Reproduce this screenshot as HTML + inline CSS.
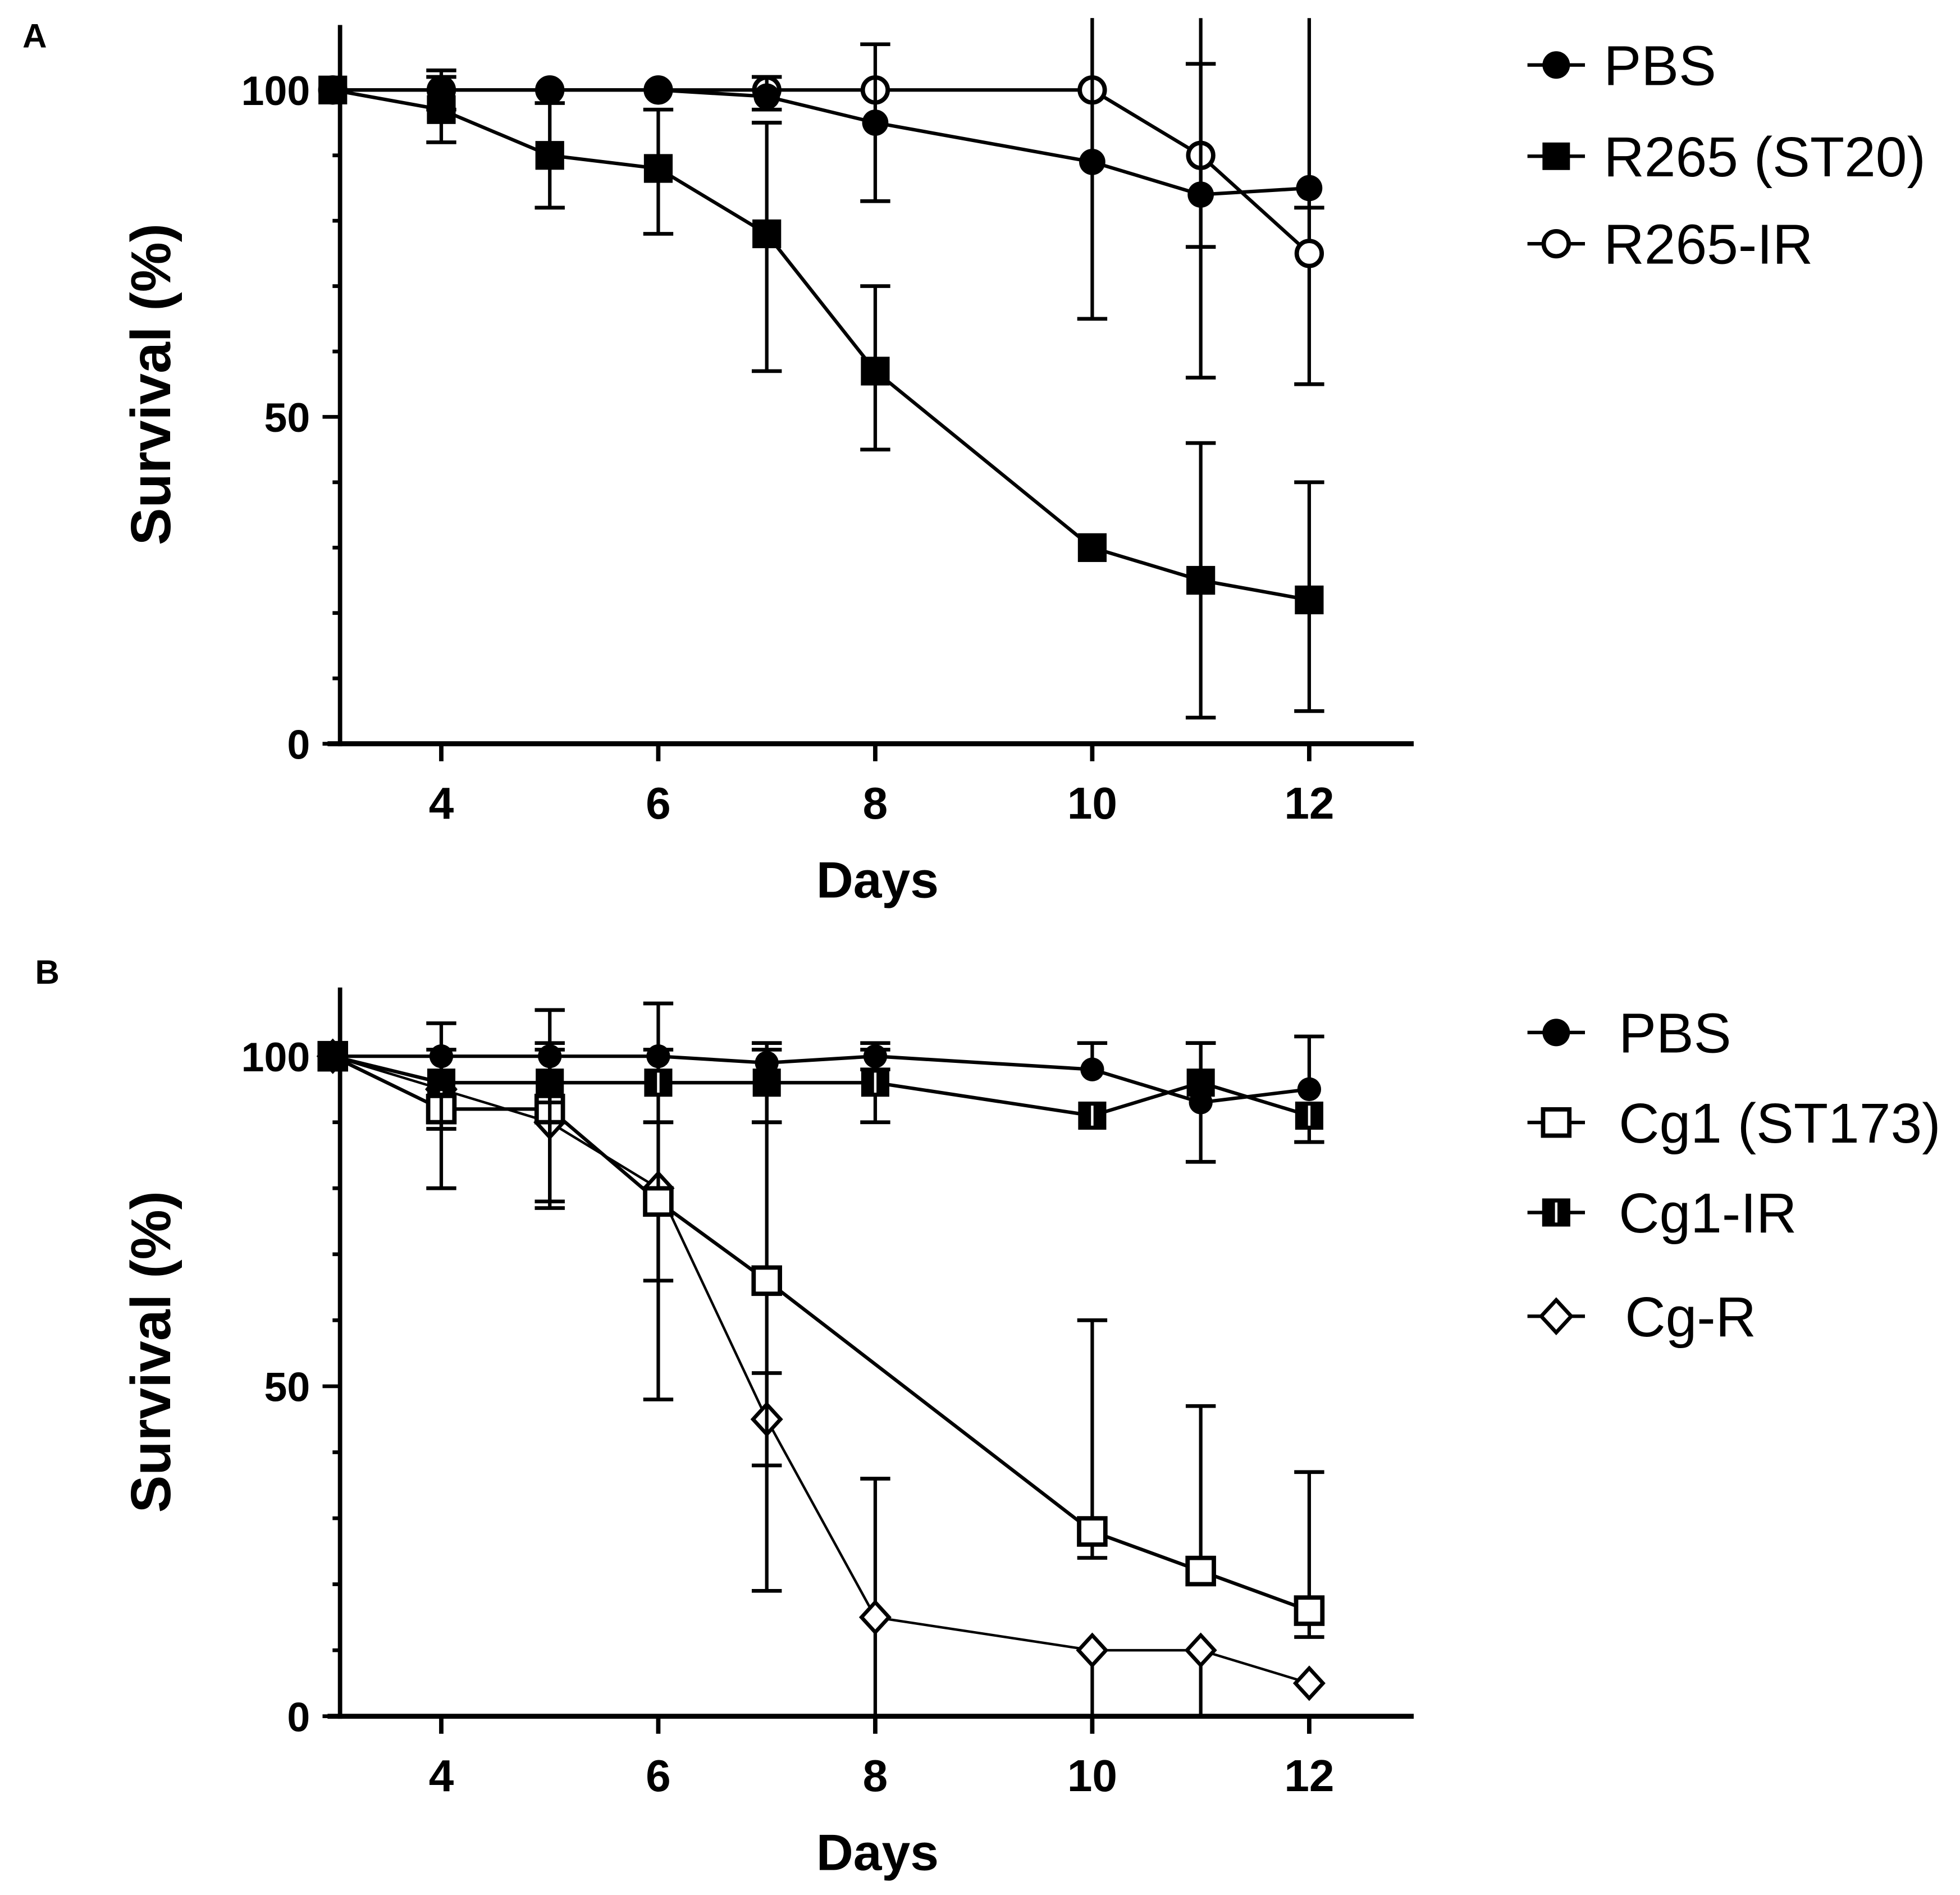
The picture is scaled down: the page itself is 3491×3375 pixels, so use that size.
<!DOCTYPE html>
<html><head><meta charset="utf-8"><style>
html,body{margin:0;padding:0;background:#fff}
svg{display:block;font-family:"Liberation Sans",Arial,sans-serif}
</style></head><body>
<svg id="chart" width="3491" height="3375" viewBox="0 0 1568 1516" xmlns="http://www.w3.org/2000/svg">
<rect width="1568" height="1516" fill="#fff"/>
<g id="gA"></g>
<g id="gB"></g>
</svg>
<script>
const days = [3,4,5,6,7,8,10,11,12];
const xTicks = [4,6,8,10,12];
const yTickLabels = [0,50,100];
// Panel A
const aPBS = [100,100,100,100,99,95,89,84,85];
const aPBSlo = [100,97,100,100,97,83,65,76,82];
const aPBShi = [100,103,100,100,102,107,112,104,85];
const aR265 = [100,97,90,88,78,57,30,25,22];
const aR265lo = [100,92,82,78,57,45,30,4,5];
const aR265hi = [100,102,98,97,95,70,30,46,40];
const aIR = [100,100,100,100,100,100,100,90,75];
const aIRlo = [100,100,100,100,100,100,100,56,55];
const aIRhi = [100,100,100,100,100,100,112,112,112];
// Panel B
const bPBS = [100,100,100,100,99,100,98,93,95];
const bPBSlo = [100,95,93,100,90,98,98,93,95];
const bPBShi = [100,105,107,108,102,102,102,102,103];
const bCg1 = [100,92,92,78,66,null,28,22,16];
const bCg1lo = [100,80,77,48,38,null,24,22,12];
const bCg1hi = [100,92,102,90,102,null,60,47,37];
const bCgIR = [100,96,96,96,96,96,91,96,91];
const bCgIRlo = [100,89,78,90,90,90,91,84,87];
const bCgIRhi = [100,101,101,101,101,101,91,102,91];
const bCgR = [100,95,90,80,45,15,10,10,5];
const bCgRlo = [100,95,90,66,19,0,0,0,5];
const bCgRhi = [100,95,90,80,52,36,10,10,5];

const NS="http://www.w3.org/2000/svg";
function mk(parent,tag,attrs,text){const e=document.createElementNS(NS,tag);for(const k in attrs)e.setAttribute(k,attrs[k]);if(text!==undefined)e.textContent=text;parent.appendChild(e);return e;}
const xS = d => 353 + (d-4)*86.8;

function marker(g,type,x,y,r){
  let e;
  if(type==='circle'){e=mk(g,'circle',{cx:x,cy:y,r:r,fill:'#000'});}
  else if(type==='ocircle'){e=mk(g,'circle',{cx:x,cy:y,r:r-1.5,fill:'#fff',stroke:'#000','stroke-width':3.5});}
  else if(type==='square'){e=mk(g,'rect',{x:x-r,y:y-r,width:2*r,height:2*r,fill:'#000'});}
  else if(type==='osquare'){e=mk(g,'rect',{x:x-r+1.5,y:y-r+1.5,width:2*r-3,height:2*r-3,fill:'#fff',stroke:'#000','stroke-width':3.5});}
  else if(type==='hsquare'){e=mk(g,'rect',{x:x-r+1.5,y:y-r+1.5,width:2*r-3,height:2*r-3,fill:'#000',stroke:'#000','stroke-width':3.5});mk(g,'line',{x1:x,y1:y-r+3,x2:x,y2:y+r-3,stroke:'#fff','stroke-width':2});}
  else if(type==='diamond'){e=mk(g,'path',{d:`M${x} ${y-r-2}L${x+r+1} ${y}L${x} ${y+r+2}L${x-r-1} ${y}Z`,fill:'#fff',stroke:'#000','stroke-width':3});}
  return e;
}

function panel(gid,y0,pxPer,axTop,label,labelY,series,legend){
  const g=document.getElementById(gid);
  const yS=v=>y0-v*pxPer;
  const ax=mk(g,'g',{});
  
  
  mk(ax,'line',{x1:272,y1:axTop,x2:272,y2:y0+2,stroke:'#000','stroke-width':3.5});
  mk(ax,'line',{x1:262,y1:y0,x2:1131,y2:y0,stroke:'#000','stroke-width':4});
  for(let v=0;v<=100;v+=10){
    const major=(v%50===0);
    mk(ax,'line',{x1:major?258:266,y1:yS(v),x2:272,y2:yS(v),stroke:'#000','stroke-width':3});
  }
  yTickLabels.forEach(v=>{const t=mk(ax,'text',{x:248,y:yS(v)+12,'text-anchor':'end','font-size':33,'font-weight':'bold'},String(v));
    });
  xTicks.forEach(d=>{mk(ax,'line',{x1:xS(d),y1:y0,x2:xS(d),y2:y0+14,stroke:'#000','stroke-width':3.5});
    const t=mk(ax,'text',{x:xS(d),y:y0+60,'text-anchor':'middle','font-size':36,'font-weight':'bold'},String(d));
    });
  const xt=mk(g,'text',{x:702,y:y0+123,'text-anchor':'middle','font-size':41,'font-weight':'bold'},'Days');
  
  const cy=(axTop+y0)/2;
  const yt=mk(g,'text',{x:0,y:0,transform:`translate(136,${cy}) rotate(-90)`,'text-anchor':'middle','font-size':45,'font-weight':'bold'},'Survival (%)');
  
  const pl=mk(g,'text',{x:label[0],y:label[1],'font-size':27,'font-weight':'bold'},labelY);
  
  series.forEach(s=>{
    const sg=mk(g,'g',{});
    
    
    const pts=[];
    days.forEach((d,i)=>{if(s.v[i]!==null)pts.push([xS(d),yS(s.v[i])]);});
    const ln=mk(sg,'polyline',{points:pts.map(p=>p.join(',')).join(' '),fill:'none',stroke:'#000','stroke-width':s.lw||2.8});
    
    days.forEach((d,i)=>{
      if(s.v[i]===null)return;
      const x=xS(d);
      const lo=Math.max(s.lo[i],0), hi=Math.min(s.hi[i],111);
      if(s.hi[i]-s.lo[i]>0.5){
        mk(sg,'line',{x1:x,y1:yS(hi),x2:x,y2:yS(lo),stroke:'#000','stroke-width':2.8});
        if(s.hi[i]<111&&s.hi[i]>s.v[i])mk(sg,'line',{x1:x-12,y1:yS(hi),x2:x+12,y2:yS(hi),stroke:'#000','stroke-width':3});
        if(s.lo[i]>0&&s.lo[i]<s.v[i])mk(sg,'line',{x1:x-12,y1:yS(lo),x2:x+12,y2:yS(lo),stroke:'#000','stroke-width':3});
      }
    });
    days.forEach((d,i)=>{
      if(s.v[i]===null)return;
      const m=marker(sg,s.m,xS(d),yS(s.v[i]),s.r||10);
      
      
    });
  });
  legend.forEach(L=>{
    const lg=mk(g,'g',{});
    
    
    mk(lg,'line',{x1:1222,y1:L.y,x2:1268,y2:L.y,stroke:'#000','stroke-width':2.8});
    marker(lg,L.m,1245,L.y,L.r||11);
    mk(lg,'text',{x:L.tx||1283,y:L.y+16,'font-size':45},L.t);
  });
}

panel('gA',595,5.23,20,[18,38],'A',[
  {name:'r265',m:'square',v:aR265,lo:aR265lo,hi:aR265hi,r:11.5},
  {name:'r265-ir',m:'ocircle',v:aIR,lo:aIRlo,hi:aIRhi,r:11.5},
  {name:'pbs',m:'circle',v:aPBS,lo:aPBSlo,hi:aPBShi,r:10.5},
],[
  {y:52,m:'circle',t:'PBS'},
  {y:125,m:'square',t:'R265 (ST20)'},
  {y:195,m:'ocircle',t:'R265-IR',r:11.5},
]);

panel('gB',1373,5.28,790,[28,787],'B',[
  {name:'cg-r',m:'diamond',v:bCgR,lo:bCgRlo,hi:bCgRhi,r:10,lw:2},
  {name:'cg1',m:'osquare',v:bCg1,lo:bCg1lo,hi:bCg1hi,r:12},
  {name:'cg1-ir',m:'hsquare',v:bCgIR,lo:bCgIRlo,hi:bCgIRhi,r:11},
  {name:'pbs',m:'circle',v:bPBS,lo:bPBSlo,hi:bPBShi,r:9.5},
],[
  {y:826,m:'circle',t:'PBS',tx:1295},
  {y:898,m:'osquare',t:'Cg1 (ST173)',tx:1295,r:12},
  {y:970,m:'hsquare',t:'Cg1-IR',tx:1295},
  {y:1053,m:'diamond',t:'Cg-R',tx:1300},
]);
</script>
</body></html>
